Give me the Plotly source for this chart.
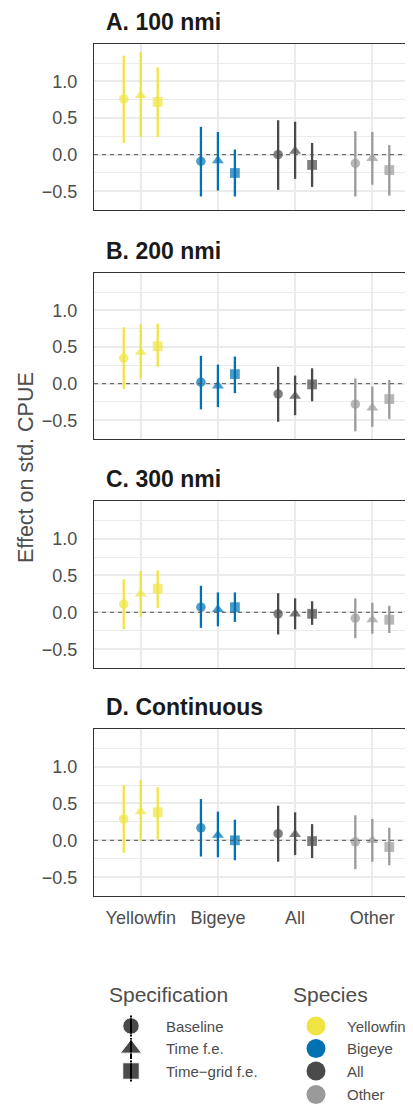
import plotly.graph_objects as go

# ---------------- data ----------------
species = ["Yellowfin", "Bigeye", "All", "Other"]
specs = ["Baseline", "Time f.e.", "Time\u2212grid f.e."]
panel_titles = ["A. 100 nmi", "B. 200 nmi", "C. 300 nmi", "D. Continuous"]
y_ticks = [-0.5, 0.0, 0.5, 1.0]
y_tick_text = ["\u22120.5", "0.0", "0.5", "1.0"]

# estimates / lower / upper per species (rows) x specification (cols)
est_100 = [[0.76, 0.81, 0.72], [-0.09, -0.08, -0.25], [0.00, 0.05, -0.14], [-0.12, -0.05, -0.21]]
lo_100 = [[0.16, 0.24, 0.24], [-0.57, -0.49, -0.57], [-0.48, -0.33, -0.44], [-0.57, -0.41, -0.56]]
hi_100 = [[1.35, 1.40, 1.19], [0.38, 0.31, 0.07], [0.47, 0.45, 0.16], [0.32, 0.31, 0.13]]

est_200 = [[0.35, 0.43, 0.51], [0.02, -0.03, 0.13], [-0.14, -0.17, -0.01], [-0.28, -0.33, -0.21]]
lo_200 = [[-0.07, 0.07, 0.23], [-0.35, -0.32, -0.13], [-0.52, -0.43, -0.24], [-0.65, -0.59, -0.48]]
hi_200 = [[0.77, 0.81, 0.82], [0.38, 0.26, 0.37], [0.23, 0.11, 0.21], [0.07, -0.04, 0.05]]

est_300 = [[0.11, 0.25, 0.32], [0.07, 0.04, 0.07], [-0.02, -0.02, -0.02], [-0.08, -0.10, -0.10]]
lo_300 = [[-0.23, -0.06, 0.06], [-0.21, -0.19, -0.13], [-0.30, -0.23, -0.17], [-0.35, -0.29, -0.28]]
hi_300 = [[0.45, 0.56, 0.57], [0.36, 0.27, 0.27], [0.26, 0.19, 0.15], [0.19, 0.13, 0.09]]

est_cont = [[0.29, 0.39, 0.38], [0.17, 0.07, 0.00], [0.09, 0.08, -0.01], [-0.02, 0.00, -0.09]]
lo_cont = [[-0.17, -0.01, 0.01], [-0.22, -0.23, -0.27], [-0.29, -0.20, -0.24], [-0.39, -0.29, -0.34]]
hi_cont = [[0.75, 0.82, 0.72], [0.56, 0.39, 0.28], [0.47, 0.38, 0.22], [0.34, 0.29, 0.17]]

panels = [(est_100, lo_100, hi_100), (est_200, lo_200, hi_200),
          (est_300, lo_300, hi_300), (est_cont, lo_cont, hi_cont)]

# ---------------- style ----------------
OFF = 8                      # page body margin of the html page
W, H = 413 - OFF, 1104 - OFF
FONT = "Liberation Sans, Arial, sans-serif"
colors = ["#F0E442", "#0072B2", "#4A4A4A", "#9A9A9A"]
symbols = ["circle", "triangle-up", "square"]
sizes = [9.5, 10.5, 9.8]
dodge = [-0.22, 0.0, 0.22]
grid = "#EBEBEB"
border = "#333333"
tick_col = "#4D4D4D"


def xp(X):
    return (X - OFF) / W


def yp(Y):
    return 1 - (Y - OFF) / H


panel_px = [(44, 210), (273, 439), (501, 668), (729, 896)]  # top, bottom (window px)
x_left_px = 94

fig = go.Figure()
layout = dict(
    width=W, height=H,
    margin=dict(l=0, r=0, t=0, b=0),
    paper_bgcolor="white",
    plot_bgcolor="rgba(0,0,0,0)",
    showlegend=False,
    font=dict(family=FONT, color=tick_col),
    annotations=[], shapes=[],
)

for p, (est, lo, hi) in enumerate(panels):
    ax = "" if p == 0 else str(p + 1)
    xref, yref = "x" + ax, "y" + ax
    top, bot = panel_px[p]
    for s, sp in enumerate(species):
        xs = [s + 1 + d for d in dodge]
        ys = est[s]
        fig.add_trace(go.Scatter(
            x=xs, y=ys, mode="markers", xaxis=xref, yaxis=yref,
            marker=dict(color=colors[s], symbol=symbols, size=sizes, line=dict(width=0)),
            error_y=dict(type="data", symmetric=False,
                         array=[h - v for h, v in zip(hi[s], ys)],
                         arrayminus=[v - l for v, l in zip(ys, lo[s])],
                         color=colors[s], thickness=2.3, width=0),
            hoverinfo="skip",
        ))
    layout["xaxis" + ax] = dict(
        domain=[xp(x_left_px), 1], range=[0.395, 4.527],
        tickvals=[1, 2, 3, 4], ticktext=species,
        showticklabels=(p == 3), ticks="",
        tickfont=dict(size=18, color=tick_col, family=FONT),
        ticklabelstandoff=5,
        showgrid=True, gridcolor=grid, gridwidth=1.6,
        zeroline=False, showline=True, mirror=True, linecolor=border, linewidth=1.3,
        anchor=yref, fixedrange=True,
    )
    layout["yaxis" + ax] = dict(
        domain=[yp(bot), yp(top)], range=[-0.755, 1.51],
        tickvals=y_ticks, ticktext=y_tick_text, ticks="",
        tickfont=dict(size=18, color=tick_col, family=FONT),
        ticklabelstandoff=12,
        showgrid=True, gridcolor=grid, gridwidth=1.6,
        minor=dict(tickvals=[-0.25, 0.25, 0.75, 1.25], showgrid=True, gridcolor=grid, gridwidth=0.8),
        zeroline=False, showline=True, mirror=False, linecolor=border, linewidth=1.3,
        anchor=xref, fixedrange=True,
    )
    layout["shapes"].append(dict(
        type="line", xref=xref + " domain", yref=yref, x0=0, x1=1, y0=0, y1=0,
        line=dict(color="#555555", width=1, dash="4px,4px"), layer="above",
    ))
    layout["annotations"].append(dict(
        text="<b>" + panel_titles[p] + "</b>", xref="paper", yref="paper",
        x=xp(104), y=yp(top - 22), xanchor="left", yanchor="middle",
        showarrow=False, font=dict(size=23, color="#1A1A1A", family=FONT),
    ))

# y axis title
layout["annotations"].append(dict(
    text="Effect on std. CPUE", xref="paper", yref="paper",
    x=xp(26), y=yp(468), xanchor="center", yanchor="middle", textangle=-90,
    showarrow=False, font=dict(size=21.5, color=tick_col, family=FONT),
))

# ---------------- legends (pixel-coordinate axis at bottom) ----------------
leg_top, leg_bot = 970, 1104
layout["xaxis5"] = dict(domain=[0, 1], range=[OFF, OFF + W], visible=False, fixedrange=True, anchor="y5")
layout["yaxis5"] = dict(domain=[0, yp(leg_top)], range=[leg_bot, leg_top],
                        visible=False, fixedrange=True, anchor="x5")
row_y = [1026, 1048.5, 1071, 1094.5]
spec_x, spec_text_x = 131, 166
spp_x, spp_text_x = 316, 349

fig.add_trace(go.Scatter(
    x=[spec_x] * len(specs), y=row_y[:len(specs)], mode="markers", xaxis="x5", yaxis="y5",
    marker=dict(color="black", symbol=symbols, size=[16.5, 18.5, 16.5]),
    error_y=dict(type="constant", value=10.5, color="black", thickness=2, width=0),
    hoverinfo="skip", cliponaxis=False,
))
fig.add_trace(go.Scatter(
    x=[spp_x] * len(species), y=row_y[:len(species)], mode="markers", xaxis="x5", yaxis="y5",
    marker=dict(color=colors, symbol="circle", size=19),
    hoverinfo="skip", cliponaxis=False,
))
layout["annotations"].append(dict(
    text="Specification", xref="x5", yref="y5", x=107, y=994,
    xanchor="left", yanchor="middle", showarrow=False,
    font=dict(size=21, color=tick_col, family=FONT)))
layout["annotations"].append(dict(
    text="Species", xref="x5", yref="y5", x=291, y=994,
    xanchor="left", yanchor="middle", showarrow=False,
    font=dict(size=21, color=tick_col, family=FONT)))
for i, lab in enumerate(specs):
    layout["annotations"].append(dict(
        text=lab, xref="x5", yref="y5", x=spec_text_x - 2, y=row_y[i],
        xanchor="left", yanchor="middle", showarrow=False,
        font=dict(size=15, color=tick_col, family=FONT)))
for i, lab in enumerate(species):
    layout["annotations"].append(dict(
        text=lab, xref="x5", yref="y5", x=spp_text_x - 4, y=row_y[i],
        xanchor="left", yanchor="middle", showarrow=False,
        font=dict(size=15, color=tick_col, family=FONT)))

fig.update_layout(**layout)
fig.write_html("out.html")
